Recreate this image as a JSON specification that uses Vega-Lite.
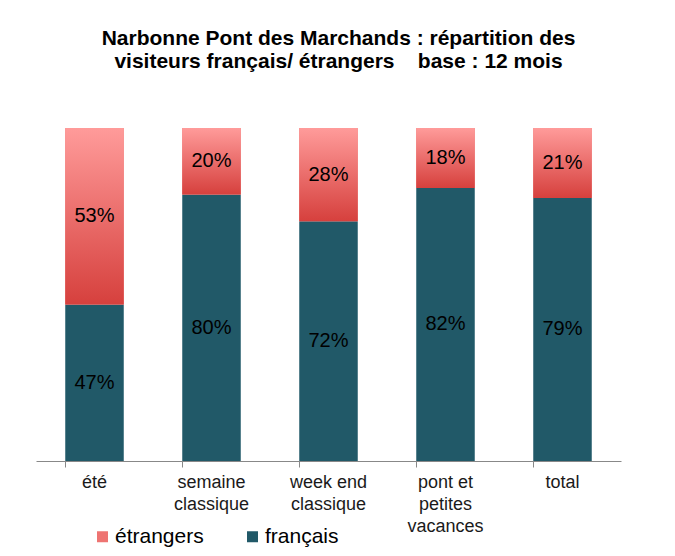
{
  "$schema": "https://vega.github.io/schema/vega-lite/v6.json",
  "width": 585,
  "height": 333,
  "autosize": {"type": "none"},
  "padding": {"left": 36, "top": 128, "right": 54, "bottom": 95},
  "background": "white",
  "config": {
    "font": "Liberation Sans",
    "view": {"stroke": null}
  },
  "title": {
    "text": ["Narbonne Pont des Marchands : répartition des", "visiteurs français/ étrangers\u00a0\u00a0\u00a0\u00a0base : 12 mois"],
    "font": "Liberation Sans",
    "fontSize": 21,
    "fontWeight": "bold",
    "color": "#000000",
    "lineHeight": 23,
    "anchor": "middle",
    "dx": 10,
    "offset": 56
  },
  "data": {
    "values": [
      {"cat": "été", "type": "français", "value": 47, "order": 1},
      {"cat": "été", "type": "étrangers", "value": 53, "order": 2},
      {"cat": "semaine classique", "type": "français", "value": 80, "order": 1},
      {"cat": "semaine classique", "type": "étrangers", "value": 20, "order": 2},
      {"cat": "week end classique", "type": "français", "value": 72, "order": 1},
      {"cat": "week end classique", "type": "étrangers", "value": 28, "order": 2},
      {"cat": "pont et petites vacances", "type": "français", "value": 82, "order": 1},
      {"cat": "pont et petites vacances", "type": "étrangers", "value": 18, "order": 2},
      {"cat": "total", "type": "français", "value": 79, "order": 1},
      {"cat": "total", "type": "étrangers", "value": 21, "order": 2}
    ]
  },
  "transform": [
    {"stack": "value", "groupby": ["cat"], "sort": [{"field": "order", "order": "ascending"}], "as": ["y0", "y1"]},
    {"calculate": "(datum.y0 + datum.y1) / 2", "as": "mid"},
    {"calculate": "datum.value + '%'", "as": "label"}
  ],
  "encoding": {
    "x": {
      "field": "cat",
      "type": "nominal",
      "sort": ["été", "semaine classique", "week end classique", "pont et petites vacances", "total"],
      "scale": {"paddingInner": 0.5, "paddingOuter": 0.25},
      "axis": {
        "title": null,
        "labelAngle": 0,
        "labelFontSize": 18,
        "labelColor": "#1a1a1a",
        "labelLineHeight": 22,
        "labelBaseline": "top",
        "labelPadding": 6,
        "labelExpr": "datum.label == 'semaine classique' ? ['semaine', 'classique'] : datum.label == 'week end classique' ? ['week end', 'classique'] : datum.label == 'pont et petites vacances' ? ['pont et', 'petites', 'vacances'] : datum.label",
        "domainColor": "#888888",
        "tickColor": "#888888",
        "tickSize": 6,
        "bandPosition": 0,
        "grid": false
      }
    }
  },
  "layer": [
    {
      "mark": {"type": "bar"},
      "encoding": {
        "y": {"field": "y0", "type": "quantitative", "scale": {"domain": [0, 100], "nice": false}, "axis": null},
        "y2": {"field": "y1"},
        "color": {
          "field": "type",
          "type": "nominal",
          "scale": {"domain": ["étrangers", "français"], "range": ["#EE7472", "#215968"]},
          "legend": {
            "title": null,
            "orient": "none",
            "direction": "horizontal",
            "legendX": 56,
            "legendY": 398,
            "symbolType": "square",
            "symbolSize": 121,
            "symbolStrokeWidth": 0,
            "labelFontSize": 21,
            "labelColor": "#000000",
            "labelOffset": 2,
            "columnPadding": 38
          }
        }
      }
    },
    {
      "transform": [{"filter": "datum.type === 'étrangers'"}],
      "mark": {
        "type": "bar",
        "color": {"gradient": "linear", "x1": 0, "y1": 0, "x2": 0, "y2": 1, "stops": [{"offset": 0, "color": "#FF9B9A"}, {"offset": 1, "color": "#D6403D"}]}
      },
      "encoding": {
        "y": {"field": "y0", "type": "quantitative"},
        "y2": {"field": "y1"}
      }
    },
    {
      "mark": {"type": "text", "fontSize": 20, "color": "#000000", "baseline": "middle", "align": "center"},
      "encoding": {
        "y": {"field": "mid", "type": "quantitative"},
        "text": {"field": "label", "type": "nominal"}
      }
    }
  ]
}
